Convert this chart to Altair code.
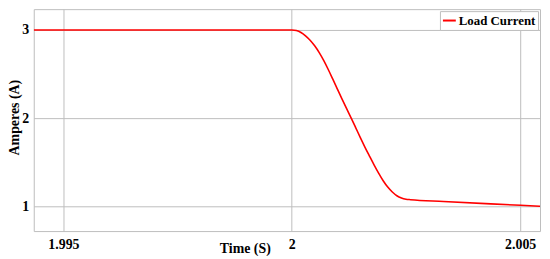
import altair as alt
import pandas as pd

# Data (time in seconds, current in amperes)
time_s = [1.99435, 2.0000, 2.0001, 2.0002, 2.0003, 2.0004, 2.0005, 2.0006,
          2.0007, 2.0008, 2.0009, 2.0010, 2.0011, 2.0012, 2.0013, 2.0014,
          2.0015, 2.0016, 2.0017, 2.0018, 2.0019, 2.0020, 2.0021, 2.0022,
          2.0023, 2.0024, 2.0025, 2.0026, 2.00332, 2.00501, 2.005434]
current_a = [3.0, 3.000, 2.993, 2.971, 2.933, 2.883, 2.820, 2.743,
             2.652, 2.549, 2.439, 2.327, 2.216, 2.107, 2.000, 1.890,
             1.779, 1.672, 1.570, 1.470, 1.376, 1.290, 1.218, 1.162,
             1.120, 1.094, 1.080, 1.075, 1.055, 1.011, 1.0]
series_name = "Load Current"
x_ticks = [1.995, 2.0, 2.005]
y_ticks = [1, 2, 3]

df = pd.DataFrame({"t": time_s, "i": current_a, "s": [series_name] * len(time_s)})

FONT = "Liberation Serif"
GRID = "#bdbdbd"

chart = (
    alt.Chart(df)
    .mark_line(interpolate="monotone", strokeWidth=1.6, clip=True)
    .encode(
        x=alt.X(
            "t:Q",
            scale=alt.Scale(domain=[1.99435, 2.005434], nice=False, zero=False),
            axis=alt.Axis(
                title="Time (S)",
                values=x_ticks,
                format=".3~f",
                titleX=213,
                titleY=22,
                titleBaseline="alphabetic",
                labelPadding=7,
            ),
        ),
        y=alt.Y(
            "i:Q",
            scale=alt.Scale(domain=[0.719, 3.236], nice=False, zero=False),
            axis=alt.Axis(
                title="Amperes (A)",
                values=y_ticks,
                titleX=-15,
                titleY=109,
                titleBaseline="alphabetic",
                labelPadding=5,
            ),
        ),
        color=alt.Color(
            "s:N",
            scale=alt.Scale(domain=[series_name], range=["#ff0000"]),
            legend=alt.Legend(
                title=None,
                orient="none",
                legendX=410,
                legendY=2,
                symbolType="stroke",
                symbolSize=169,
                symbolStrokeWidth=2,
                labelFont=FONT,
                labelFontWeight="bold",
                labelFontSize=13,
                labelColor="black",
                labelOffset=2,
                padding=2,
                strokeColor=GRID,
                fillColor="white",
            ),
        ),
    )
    .properties(
        width=511,
        height=224,
        autosize=alt.AutoSizeParams(type="none"),
        padding={"left": 26, "top": 0, "right": 2, "bottom": 24},
    )
    .configure_view(stroke=GRID, strokeWidth=1)
    .configure_axis(
        grid=True,
        gridColor=GRID,
        gridWidth=1,
        gridOpacity=1,
        domain=False,
        ticks=False,
        labelFont=FONT,
        labelFontWeight="bold",
        labelFontSize=14,
        labelColor="black",
        titleFont=FONT,
        titleFontWeight="bold",
        titleFontSize=14,
        titleColor="black",
    )
)

chart.save("out.html", embed_options={"renderer": "svg", "actions": False})
